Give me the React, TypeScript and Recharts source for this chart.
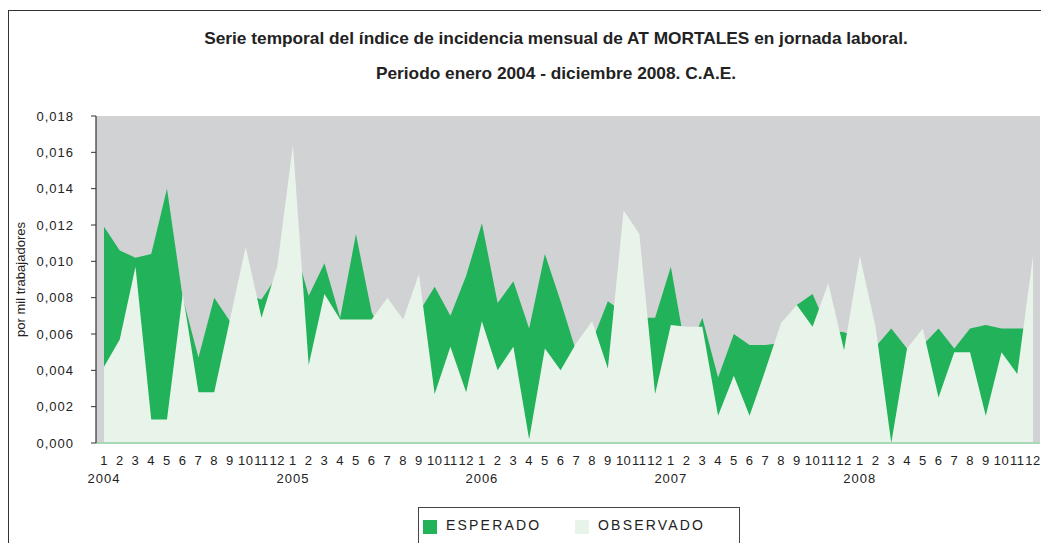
import React from 'react';
import { AreaChart, Area, XAxis, YAxis, CartesianGrid, Legend } from 'recharts';

const years = ['2004', '2005', '2006', '2007', '2008'];
const months = ['1', '2', '3', '4', '5', '6', '7', '8', '9', '10', '11', '12'];

// por mil trabajadores, enero 2004 .. diciembre 2008
const esperado = [
  0.0119, 0.0106, 0.0102, 0.0104, 0.014, 0.008, 0.0047, 0.008, 0.0067, 0.0082, 0.0079, 0.0092,
  0.0112, 0.0081, 0.0099, 0.0069, 0.0115, 0.0072, 0.0055, 0.006, 0.0072, 0.0086, 0.007, 0.0092,
  0.0121, 0.0077, 0.0089, 0.0063, 0.0104, 0.0078, 0.005, 0.0056, 0.0078, 0.0072, 0.0069, 0.0069,
  0.0097, 0.0048, 0.0069, 0.0036, 0.006, 0.0054, 0.0054, 0.0055, 0.0076, 0.0082, 0.0062, 0.0061,
  0.0058, 0.0053, 0.0063, 0.0052, 0.0054, 0.0063, 0.0052, 0.0063, 0.0065, 0.0063, 0.0063, 0.0063,
];
const observado = [
  0.0042, 0.0057, 0.0097, 0.0013, 0.0013, 0.0082, 0.0028, 0.0028, 0.0068, 0.0108, 0.0069, 0.0097,
  0.0164, 0.0043, 0.0082, 0.0068, 0.0068, 0.0068, 0.008, 0.0068, 0.0093, 0.0027, 0.0053, 0.0028,
  0.0067, 0.004, 0.0053, 0.0002, 0.0052, 0.004, 0.0055, 0.0067, 0.0041, 0.0128, 0.0115, 0.0027,
  0.0065, 0.0064, 0.0064, 0.0015, 0.0037, 0.0015, 0.004, 0.0066, 0.0076, 0.0064, 0.0088, 0.0051,
  0.0103, 0.0064, 0.0, 0.0052, 0.0063, 0.0025, 0.005, 0.005, 0.0015, 0.005, 0.0038, 0.0103,
];
const yTicks = [0, 0.002, 0.004, 0.006, 0.008, 0.01, 0.012, 0.014, 0.016, 0.018];

const data = years.flatMap((y, yi) =>
  months.map((m, mi) => {
    const i = yi * 12 + mi;
    return { key: `${y}-${m}`, year: y, month: m, esperado: esperado[i], observado: observado[i] };
  })
);

const FONT = '"Liberation Sans", Arial, Helvetica, sans-serif';
const GREEN = '#22b25a';
const LIGHT = '#e8f4ea';

const MonthTick = (props: any) => {
  const { x, y, payload } = props;
  const [yr, m] = String(payload.value).split('-');
  return (
    <g>
      <text x={x} y={y + 14} textAnchor="middle" fontSize={13} fill="#222" fontFamily={FONT} letterSpacing={0.5}>
        {m}
      </text>
      {m === '1' && (
        <text x={x} y={y + 32} textAnchor="middle" fontSize={13} fill="#222" fontFamily={FONT} letterSpacing={1}>
          {yr}
        </text>
      )}
    </g>
  );
};

const LegendBox = () => (
  <div
    style={{
      width: 322,
      height: 40,
      borderTop: '1.5px solid #444',
      borderLeft: '1.5px solid #444',
      borderRight: '1.5px solid #444',
      boxSizing: 'border-box',
      fontFamily: FONT,
      fontSize: 14,
      letterSpacing: 2.2,
      color: '#222',
      position: 'relative',
    }}
  >
    <span style={{ position: 'absolute', left: 4, top: 12, width: 14, height: 14, background: GREEN }} />
    <span style={{ position: 'absolute', left: 27, top: 9 }}>ESPERADO</span>
    <span style={{ position: 'absolute', left: 156, top: 12, width: 14, height: 14, background: LIGHT }} />
    <span style={{ position: 'absolute', left: 179, top: 9 }}>OBSERVADO</span>
  </div>
);

const titleStyle: React.CSSProperties = {
  position: 'absolute',
  left: 0,
  width: 1112,
  textAlign: 'center',
  fontFamily: FONT,
  fontWeight: 'bold',
  fontSize: 17.3,
  color: '#222',
  lineHeight: '20px',
};

export default function App() {
  return (
    <div style={{ position: 'absolute', left: 0, top: 0, width: 1041, height: 543, background: '#fff', overflow: 'hidden' }}>
      <div
        style={{
          position: 'absolute',
          left: 8,
          top: 10,
          width: 1041,
          height: 543,
          borderTop: '1.5px solid #333',
          borderLeft: '1.5px solid #333',
        }}
      />
      <div style={{ ...titleStyle, top: 28 }}>
        Serie temporal del índice de incidencia mensual de AT MORTALES en jornada laboral.
      </div>
      <div style={{ ...titleStyle, top: 63 }}>Periodo enero 2004 - diciembre 2008. C.A.E.</div>
      <AreaChart
        width={1041}
        height={543}
        data={data}
        margin={{ top: 116, right: 1, bottom: 0, left: 0 }}
        style={{ position: 'absolute', left: 0, top: 0 }}
      >
        <CartesianGrid fill="#d1d2d4" horizontal={false} vertical={false} />
        <XAxis
          dataKey="key"
          height={60}
          interval={0}
          padding={{ left: 8, right: 7 }}
          axisLine={{ stroke: '#a9d8b6', strokeWidth: 2 }}
          tickLine={false}
          tick={<MonthTick />}
        />
        <YAxis
          width={96}
          domain={[0, 0.018]}
          ticks={yTicks}
          interval={0}
          tickFormatter={(v: number) => v.toFixed(3).replace('.', ',')}
          axisLine={{ stroke: '#333', strokeWidth: 1.2 }}
          tickLine={{ stroke: '#333' }}
          tickSize={5}
          tickMargin={17}
          tick={{ fontSize: 13, fill: '#222', fontFamily: FONT, letterSpacing: 1 }}
          label={{
            value: 'por mil trabajadores',
            angle: -90,
            position: 'insideLeft',
            offset: 20,
            style: { fontSize: 13, fill: '#222', fontFamily: FONT, textAnchor: 'middle' },
          }}
        />
        <Area type="linear" dataKey="esperado" name="ESPERADO" fill={GREEN} fillOpacity={1} stroke="none" isAnimationActive={false} />
        <Area type="linear" dataKey="observado" name="OBSERVADO" fill={LIGHT} fillOpacity={1} stroke="none" isAnimationActive={false} />
        <Legend content={<LegendBox />} wrapperStyle={{ position: 'absolute', left: 418, top: 507, width: 322, height: 40 }} />
      </AreaChart>
    </div>
  );
}
